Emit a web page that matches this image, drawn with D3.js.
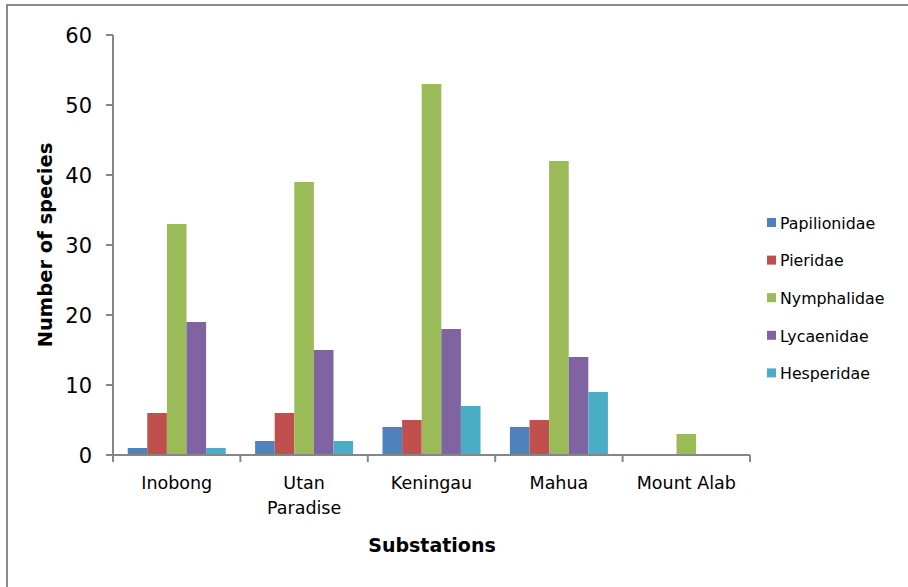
<!DOCTYPE html>
<html>
<head>
<meta charset="utf-8">
<script src="https://cdn.jsdelivr.net/npm/d3@7"></script>
<style>
  body { margin: 0; background: #fff; }
  text { font-family: "DejaVu Sans", sans-serif; fill: #000; }
</style>
</head>
<body>
<svg id="chart" width="908" height="587"></svg>
<script>
const categories = ["Inobong", "Utan Paradise", "Keningau", "Mahua", "Mount Alab"];
const families = ["Papilionidae", "Pieridae", "Nymphalidae", "Lycaenidae", "Hesperidae"];
const papilionidae = [1, 2, 4, 4, 0];
const pieridae = [6, 6, 5, 5, 0];
const nymphalidae = [33, 39, 53, 42, 3];
const lycaenidae = [19, 15, 18, 14, 0];
const hesperidae = [1, 2, 7, 9, 0];
const yTicks = [0, 10, 20, 30, 40, 50, 60];
const colors = ["#4F81BD", "#C0504D", "#9BBB59", "#8064A2", "#4BACC6"];

const seriesValues = [papilionidae, pieridae, nymphalidae, lycaenidae, hesperidae];

const svg = d3.select("#chart");
const axisColor = "#868686";

// outer chart border
svg.append("rect")
    .attr("x", 7).attr("y", 5)
    .attr("width", 1000).attr("height", 1000)
    .attr("fill", "none")
    .attr("stroke", "#8a8a8a")
    .attr("stroke-width", 2);

const x = d3.scaleBand().domain(categories).range([113, 750]);
const xs = d3.scaleBand().domain(families).range([0, x.bandwidth()]).paddingOuter(0.75);
const y = d3.scaleLinear().domain([0, 60]).range([455, 35]);

// bars
const groups = svg.selectAll(".grp")
    .data(categories)
    .enter().append("g")
    .attr("transform", d => `translate(${x(d)},0)`);

groups.selectAll("rect")
    .data((c, i) => families.map((f, j) => ({ f, v: seriesValues[j][i], j })))
    .enter().append("rect")
    .attr("x", d => xs(d.f))
    .attr("width", xs.bandwidth())
    .attr("y", d => y(d.v))
    .attr("height", d => y(0) - y(d.v))
    .attr("fill", d => colors[d.j]);

// y axis
svg.append("line")
    .attr("x1", 113).attr("x2", 113)
    .attr("y1", y(60)).attr("y2", y(0))
    .attr("stroke", axisColor).attr("stroke-width", 2);

svg.selectAll(".ytick")
    .data(yTicks)
    .enter().append("line")
    .attr("x1", 106).attr("x2", 113)
    .attr("y1", d => y(d)).attr("y2", d => y(d))
    .attr("stroke", axisColor).attr("stroke-width", 2);

svg.selectAll(".ylab")
    .data(yTicks)
    .enter().append("text")
    .attr("x", 92)
    .attr("y", d => y(d))
    .attr("dy", "0.36em")
    .attr("text-anchor", "end")
    .style("font-size", "21px")
    .text(d => d);

// x axis
svg.append("line")
    .attr("x1", 113).attr("x2", 750)
    .attr("y1", y(0)).attr("y2", y(0))
    .attr("stroke", axisColor).attr("stroke-width", 2);

const xTickPos = categories.map(c => x(c)).concat([x.range()[1]]);
svg.selectAll(".xtick")
    .data(xTickPos)
    .enter().append("line")
    .attr("x1", d => d).attr("x2", d => d)
    .attr("y1", y(0)).attr("y2", y(0) + 7)
    .attr("stroke", axisColor).attr("stroke-width", 2);

const xLabels = svg.selectAll(".xlab")
    .data(categories)
    .enter().append("text")
    .attr("text-anchor", "middle")
    .attr("transform", d => `translate(${x(d) + x.bandwidth() / 2},489)`)
    .style("font-size", "17.5px");

xLabels.each(function(d) {
    const words = d === "Utan Paradise" ? ["Utan", "Paradise"] : [d];
    words.forEach((w, i) => {
        d3.select(this).append("tspan")
            .attr("x", 0)
            .attr("y", i * 25)
            .text(w);
    });
});

// axis titles
svg.append("text")
    .attr("x", 432).attr("y", 552)
    .attr("text-anchor", "middle")
    .style("font-size", "19px")
    .style("font-weight", "bold")
    .text("Substations");

svg.append("text")
    .attr("transform", "translate(52,245) rotate(-90)")
    .attr("text-anchor", "middle")
    .style("font-size", "19.5px")
    .style("font-weight", "bold")
    .text("Number of species");

// legend
const legend = svg.selectAll(".leg")
    .data(families)
    .enter().append("g")
    .attr("transform", (d, i) => `translate(767,${223 + i * 37.6})`);

legend.append("rect")
    .attr("x", 0).attr("y", -5)
    .attr("width", 9).attr("height", 9)
    .attr("fill", (d, i) => colors[i]);

legend.append("text")
    .attr("x", 13).attr("y", 0)
    .attr("dy", "0.36em")
    .style("font-size", "15.8px")
    .text(d => d);
</script>
</body>
</html>
